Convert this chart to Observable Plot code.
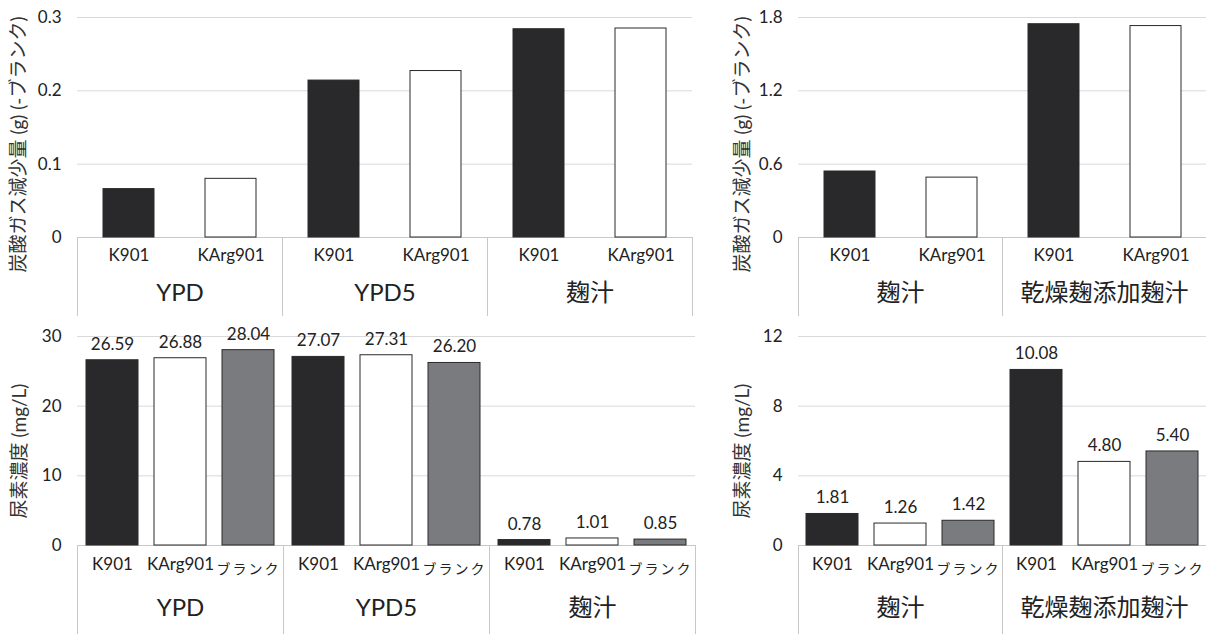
<!DOCTYPE html>
<html><head><meta charset="utf-8">
<script src="https://cdn.jsdelivr.net/npm/d3@7"></script>
<script src="https://cdn.jsdelivr.net/npm/@observablehq/plot@0.6"></script>
<style>
body{margin:0;background:#fff;}
#wrap{position:relative;width:1206px;height:635px;overflow:hidden;background:#fff;}
.panel{position:absolute;}
</style></head><body><div id="wrap"></div>
<script>
// ---- data ----
const strains2 = ["K901", "KArg901"];
const strains3 = ["K901", "KArg901", "ブランク"];
const mediaA = ["YPD", "YPD5", "麹汁"];
const mediaB = ["麹汁", "乾燥麹添加麹汁"];
const co2A_K901 = [0.066, 0.214, 0.284];
const co2A_KArg901 = [0.080, 0.227, 0.285];
const co2B_K901 = [0.54, 1.745];
const co2B_KArg901 = [0.49, 1.73];
const ureaA_K901 = [26.59, 27.07, 0.78];
const ureaA_KArg901 = [26.88, 27.31, 1.01];
const ureaA_blank = [28.04, 26.20, 0.85];
const ureaB_K901 = [1.81, 10.08];
const ureaB_KArg901 = [1.26, 4.80];
const ureaB_blank = [1.42, 5.40];
const ticksCO2A = [0, 0.1, 0.2, 0.3];
const ticksCO2B = [0, 0.6, 1.2, 1.8];
const ticksUreaA = [0, 10, 20, 30];
const ticksUreaB = [0, 4, 8, 12];
const titleCO2 = "炭酸ガス減少量 (g) (-ブランク)";
const titleUrea = "尿素濃度 (mg/L)";
const barColors = ["#29282a", "#ffffff", "#7a7b7f"];

const FONT = 'Lato, "Noto Sans CJK JP", sans-serif';
const LINE = "#c8c8c8";
const GRID = "#d9d9d9";

function panel(o) {
  const data = [];
  o.media.forEach((m, i) => o.strains.forEach((s, j) => data.push({group: m, strain: s, value: o.series[j][i]})));
  const innerH = o.height - o.mt - o.mb;
  const three = o.strains.length === 3;
  const marks = [
    Plot.gridY({ticks: o.ticks, stroke: GRID, strokeOpacity: 1}),
    Plot.axisY({ticks: o.ticks, tickSize: 0, tickPadding: 16, fontSize: 17, label: null, tickFormat: d => `${d}`}),
    Plot.ruleY([0], {stroke: LINE}),
    Plot.barY(data, {fx: "group", x: "strain", y: "value", fill: "strain", stroke: "#2a2a2a", strokeWidth: 1}),
    Plot.frame({anchor: "left", stroke: LINE, strokeOpacity: 1, insetTop: innerH, insetBottom: -(o.mb - o.lineGap)}),
    Plot.text(data.filter(d => d.strain !== "ブランク"), {fx: "group", x: "strain", text: "strain", frameAnchor: "bottom", dy: o.subDy, fontSize: 17, fill: "#222"}),
    Plot.text(data.filter(d => d.strain === "ブランク"), {fx: "group", x: "strain", text: "strain", frameAnchor: "bottom", dy: o.subDy + 4, fontSize: 14, fill: "#222"}),
    Plot.text(o.media, {fx: d => d, text: d => d, frameAnchor: "bottom", dy: o.groupDy, fontSize: 24, fill: "#222"}),
    Plot.text([o.title], {fx: () => o.media[0], text: d => d, frameAnchor: "left", textAnchor: "middle", rotate: -90, dx: -(o.ml - o.titleX), dy: o.titleDy, fontSize: 19, fill: "#333"})
  ];
  if (o.rightBorder) marks.push(Plot.frame({anchor: "right", stroke: LINE, strokeOpacity: 1, insetTop: innerH, insetBottom: -(o.mb - o.lineGap)}));
  if (o.values) marks.push(Plot.text(data, {fx: "group", x: "strain", y: "value", text: d => d.value.toFixed(2), dy: -16, fontSize: 17, fill: "#222"}));
  const chart = Plot.plot({
    width: o.width, height: o.height,
    marginTop: o.mt, marginBottom: o.mb, marginLeft: o.ml, marginRight: o.mr,
    style: {fontFamily: FONT, color: "#222", background: "transparent", overflow: "visible"},
    fx: {domain: o.media, paddingInner: 0, paddingOuter: 0, axis: null, label: null},
    x: {domain: o.strains, paddingInner: three ? 0.23 : 0.5, paddingOuter: three ? 0.115 : 0.25, axis: null},
    y: {domain: o.domain},
    color: {domain: strains3, range: barColors},
    marks
  });
  d3.select(chart).selectAll("text").filter(function () { return this.textContent === "ブランク"; }).attr("letter-spacing", "2px");
  const div = document.createElement("div");
  div.className = "panel";
  div.style.left = o.left + "px";
  div.style.top = o.top + "px";
  div.appendChild(chart);
  document.getElementById("wrap").appendChild(div);
}

panel({media: mediaA, strains: strains2, series: [co2A_K901, co2A_KArg901], ticks: ticksCO2A, domain: [0, 0.3],
  title: titleCO2, left: 0, top: 0, width: 700, height: 318, mt: 17, mb: 81, ml: 77, mr: 8,
  rightBorder: true, values: false, subDy: 23, groupDy: 63, titleX: 18, titleDy: 17, lineGap: 3});
panel({media: mediaB, strains: strains2, series: [co2B_K901, co2B_KArg901], ticks: ticksCO2B, domain: [0, 1.8],
  title: titleCO2, left: 700, top: 0, width: 506, height: 318, mt: 17, mb: 81, ml: 98, mr: 0,
  rightBorder: false, values: false, subDy: 23, groupDy: 63, titleX: 42, titleDy: 17, lineGap: 3});
panel({media: mediaA, strains: strains3, series: [ureaA_K901, ureaA_KArg901, ureaA_blank], ticks: ticksUreaA, domain: [0, 30],
  title: titleUrea, left: 0, top: 318, width: 700, height: 317, mt: 18, mb: 90, ml: 76, mr: 4,
  rightBorder: true, values: true, subDy: 24, groupDy: 70, titleX: 18, titleDy: 10, lineGap: 2});
panel({media: mediaB, strains: strains3, series: [ureaB_K901, ureaB_KArg901, ureaB_blank], ticks: ticksUreaB, domain: [0, 12],
  title: titleUrea, left: 700, top: 318, width: 506, height: 317, mt: 18, mb: 90, ml: 98, mr: 0,
  rightBorder: false, values: true, subDy: 24, groupDy: 70, titleX: 42, titleDy: 10, lineGap: 2});
</script>
</body></html>
